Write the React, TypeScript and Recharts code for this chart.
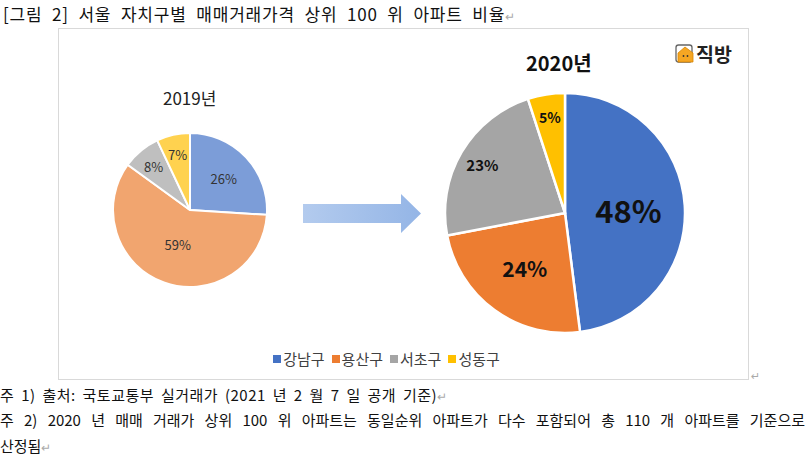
import React from 'react';
import { PieChart, Pie, Cell, Legend } from 'recharts';

const districts = ['강남구', '용산구', '서초구', '성동구'];
const share2019 = [26, 59, 8, 7];
const share2020 = [48, 24, 23, 5];

const colors2020 = ['#4472C4', '#ED7D31', '#A5A5A5', '#FFC000'];
const colors2019 = ['#7C9DD8', '#F1A56F', '#BFBFBF', '#FFD24F'];

// label placement (fraction of radius) and font size, per slice
const labelR2019 = [0.6, 0.47, 0.74, 0.74];
const labelR2020 = [0.53, 0.57, 0.8, 0.81];
const labelSize2020 = [31, 21, 15, 14];

const data2019 = districts.map((name, i) => ({ name, value: share2019[i] }));
const data2020 = districts.map((name, i) => ({ name, value: share2020[i] }));

const FONT = '"Noto Sans CJK KR", "Noto Sans", sans-serif';
const RAD = Math.PI / 180;

function makeLabel(fracs: number[], sizes: number[] | null, bold: boolean, color: string) {
  return (props: any) => {
    const { cx, cy, midAngle, outerRadius, index, value } = props;
    const r = outerRadius * fracs[index];
    const x = cx + r * Math.cos(-midAngle * RAD);
    const y = cy + r * Math.sin(-midAngle * RAD);
    return (
      <text
        x={x}
        y={y}
        textAnchor="middle"
        dominantBaseline="central"
        fontFamily={FONT}
        fontSize={sizes ? sizes[index] : 13}
        fontWeight={bold ? 700 : 400}
        fill={color}
      >
        {`${value}%`}
      </text>
    );
  };
}

function LegendContent() {
  return (
    <div style={{ display: 'flex', justifyContent: 'center', gap: 7, paddingRight: 34, fontFamily: FONT, fontSize: 15, color: '#404040' }}>
      {districts.map((d, i) => (
        <span key={d} style={{ display: 'flex', alignItems: 'center' }}>
          <span style={{ width: 8, height: 8, background: colors2020[i], marginRight: 2, display: 'inline-block' }} />
          {d}
        </span>
      ))}
    </div>
  );
}

const note = { position: 'absolute' as const, left: 0, fontSize: 15, color: '#111', whiteSpace: 'nowrap' as const };

export default function App() {
  return (
    <div style={{ position: 'absolute', left: 0, top: 0, width: 807, height: 462, background: '#fff', overflow: 'hidden', fontFamily: FONT }}>
      <div style={{ position: 'absolute', left: 3, top: 1, fontSize: 17, letterSpacing: 0.8, wordSpacing: 5, color: '#111', whiteSpace: 'nowrap' }}>
        [그림 2] 서울 자치구별 매매거래가격 상위 100 위 아파트 비율<span style={{ color: '#aaa', fontSize: 12 }}>↵</span>
      </div>

      <div style={{ position: 'absolute', left: 58, top: 28, width: 689, height: 350, border: '1px solid #d9d9d9' }}>
        <PieChart width={689} height={350} margin={{ top: 0, right: 0, bottom: 0, left: 0 }}>
          <Pie
            data={data2019}
            dataKey="value"
            nameKey="name"
            cx={131}
            cy={181}
            outerRadius={77}
            startAngle={90}
            endAngle={-270}
            stroke="#fff"
            strokeWidth={2}
            label={makeLabel(labelR2019, null, false, '#333')}
            labelLine={false}
            isAnimationActive={false}
            legendType="none"
          >
            {data2019.map((d, i) => (
              <Cell key={d.name} fill={colors2019[i]} />
            ))}
          </Pie>
          <Pie
            data={data2020}
            dataKey="value"
            nameKey="name"
            cx={506}
            cy={184}
            outerRadius={120}
            startAngle={90}
            endAngle={-270}
            stroke="#fff"
            strokeWidth={2.5}
            label={makeLabel(labelR2020, labelSize2020, true, '#111')}
            labelLine={false}
            isAnimationActive={false}
          >
            {data2020.map((d, i) => (
              <Cell key={d.name} fill={colors2020[i]} />
            ))}
          </Pie>
          <Legend verticalAlign="bottom" align="center" content={LegendContent} wrapperStyle={{ bottom: 10 }} />
        </PieChart>
      </div>

      <div style={{ position: 'absolute', left: 163, top: 85, fontSize: 17, color: '#222' }}>2019년</div>
      <div style={{ position: 'absolute', left: 526, top: 48, fontSize: 20, fontWeight: 700, color: '#111' }}>2020년</div>

      <svg style={{ position: 'absolute', left: 0, top: 0 }} width={807} height={462}>
        <defs>
          <linearGradient id="arrowGrad" x1="0" x2="1" y1="0" y2="0">
            <stop offset="0" stopColor="#b3cbee" />
            <stop offset="1" stopColor="#94b5e6" />
          </linearGradient>
        </defs>
        <polygon points="303,204 401,204 401,194 421,213.5 401,233 401,223 303,223" fill="url(#arrowGrad)" />
        {/* 직방 logo icon */}
        <rect x={676} y={45} width={16} height={17} rx={2.5} fill="#fff" stroke="#666" strokeWidth={1.3} />
        <polygon points="678,53 685,47 693,53 693,62 678,62" fill="#F5A623" stroke="#D98600" strokeWidth={0.8} />
        <circle cx={683.5} cy={56} r={0.9} fill="#333" />
        <circle cx={687.5} cy={56} r={0.9} fill="#333" />
        <text x={696} y={62} fontFamily={FONT} fontSize={19.5} fontWeight={700} fill="#222">직방</text>
        <text x={751} y={380} fontFamily="DejaVu Sans" fontSize={11} fill="#aaa">↵</text>
      </svg>

      <div style={{ ...note, top: 384, letterSpacing: 0.5, wordSpacing: 3 }}>
        주 1) 출처: 국토교통부 실거래가 (2021 년 2 월 7 일 공개 기준)<span style={{ color: '#aaa', fontSize: 12 }}>↵</span>
      </div>
      <div style={{ ...note, top: 409, width: 805, textAlign: 'justify', textAlignLast: 'justify' }}>
        주 2) 2020 년 매매 거래가 상위 100 위 아파트는 동일순위 아파트가 다수 포함되어 총 110 개 아파트를 기준으로
      </div>
      <div style={{ ...note, top: 435 }}>
        산정됨<span style={{ color: '#aaa', fontSize: 12 }}>↵</span>
      </div>
    </div>
  );
}
